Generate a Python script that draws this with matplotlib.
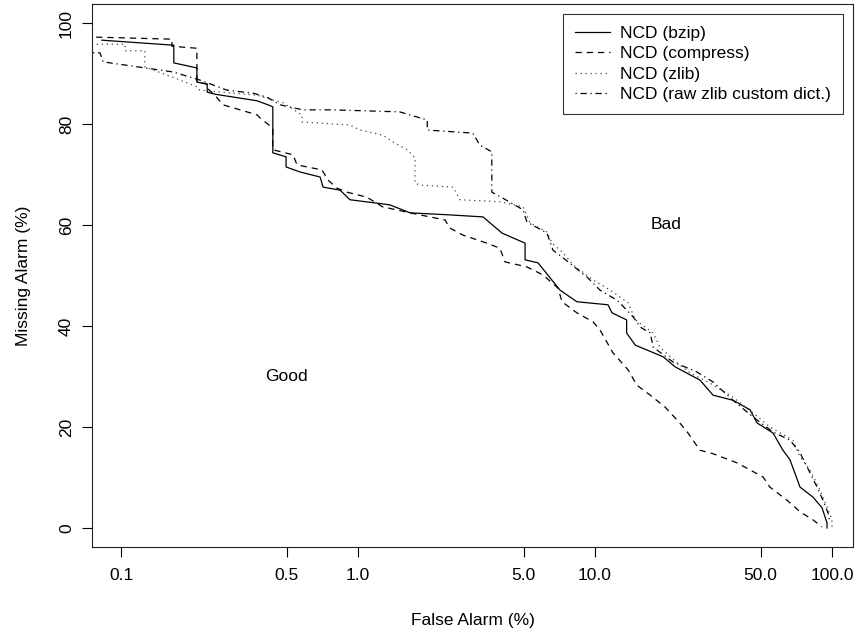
import matplotlib
matplotlib.use("Agg")
import matplotlib.pyplot as plt

plt.rcParams["font.family"] = ["Liberation Sans", "DejaVu Sans"]

# DET curves: false alarm (%) vs missing alarm (%)
bzip_fa = [0.083, 0.167, 0.167, 0.209, 0.209, 0.231, 0.231, 0.249, 0.375, 0.417,
           0.437, 0.437, 0.497, 0.497, 0.569, 0.692, 0.712, 0.840, 0.925, 1.36,
           1.66, 2.44, 3.37, 4.05, 5.07, 5.07, 5.75, 7.12, 8.39, 11.35,
           11.8, 13.6, 13.6, 14.8, 19.4, 21.8, 27.7, 31.5, 38.2, 45.1,
           48.3, 56.4, 62.1, 66.5, 73.3, 83.2, 90.8, 95.3, 95.3]
bzip_ma = [96.6, 95.6, 92.1, 91.1, 88.3, 87.9, 86.3, 85.9, 84.6, 83.8,
           83.4, 74.3, 73.5, 71.5, 70.5, 69.5, 67.5, 66.9, 65.0, 64.0,
           62.4, 62.0, 61.6, 58.4, 56.4, 53.1, 52.5, 47.1, 44.8, 44.2,
           42.6, 41.2, 38.6, 36.2, 33.9, 31.9, 29.3, 26.3, 25.3, 23.4,
           20.8, 18.8, 15.4, 13.5, 8.1, 6.1, 4.0, 1.0, 0.0]

compress_fa = [0.0785, 0.164, 0.164, 0.209, 0.209, 0.231, 0.231, 0.249, 0.269, 0.318,
               0.375, 0.386, 0.437, 0.437, 0.532, 0.553, 0.705, 0.747, 0.815, 0.899,
               1.09, 1.27, 1.66, 2.01, 2.33, 2.44, 2.77, 3.50, 3.97, 4.17,
               5.16, 6.04, 6.98, 7.26, 8.39, 9.82, 10.5, 11.9, 13.8, 15.0,
               17.1, 19.7, 22.8, 24.7, 27.7, 31.5, 39.7, 51.2, 54.7, 64.6,
               73.3, 83.2, 90.8]
compress_ma = [97.2, 96.8, 95.4, 95.0, 88.3, 87.9, 87.1, 85.7, 83.8, 82.8,
               81.8, 81.2, 79.2, 74.9, 73.9, 71.9, 70.9, 68.9, 67.3, 66.5,
               65.5, 63.6, 62.4, 61.6, 61.0, 59.4, 58.0, 56.4, 55.4, 52.7,
               51.7, 50.1, 47.5, 44.8, 42.6, 40.8, 39.2, 34.7, 31.3, 28.3,
               26.3, 24.0, 20.8, 18.8, 15.4, 14.7, 12.9, 10.1, 8.1, 5.5,
               3.2, 1.6, 0.2]

zlib_fa = [0.079, 0.104, 0.104, 0.126, 0.126, 0.169, 0.211, 0.215, 0.269, 0.375,
           0.483, 0.580, 0.580, 0.925, 1.02, 1.27, 1.41, 1.61, 1.74, 1.74,
           1.83, 2.52, 2.69, 3.97, 4.97, 5.32, 6.27, 6.59, 7.33, 8.08,
           9.82, 11.6, 13.8, 14.8, 17.6, 18.8, 22.2, 25.2, 30.5, 38.2,
           46.4, 54.7, 68.4, 73.3, 80.8, 89.0, 95.3, 100.0, 100.0]
zlib_ma = [95.8, 95.8, 94.5, 94.5, 91.3, 89.1, 87.3, 86.7, 86.3, 85.7,
           84.2, 81.8, 80.4, 79.8, 78.8, 77.8, 76.4, 74.9, 73.3, 68.3,
           67.9, 67.5, 65.0, 64.6, 63.6, 60.4, 58.6, 56.4, 54.5, 52.1,
           49.1, 47.1, 44.6, 41.2, 38.6, 35.8, 32.7, 30.7, 28.7, 25.9,
           22.8, 20.0, 17.4, 14.1, 11.5, 7.5, 4.2, 1.6, 0.2]

rawzlib_fa = [0.0762, 0.0815, 0.084, 0.166, 0.215, 0.280, 0.361, 0.413, 0.469, 0.586,
              0.785, 1.50, 1.83, 1.96, 1.96, 3.05, 3.27, 3.67, 3.67, 4.09,
              4.97, 5.16, 6.27, 6.65, 7.33, 9.25, 10.5, 12.4, 14.5, 15.5,
              17.1, 17.6, 21.3, 26.9, 31.5, 38.2, 46.4, 56.4, 66.5, 73.3,
              78.5, 86.5, 91.6, 96.2, 98.2]
rawzlib_ma = [94.1, 94.1, 92.3, 90.3, 88.7, 86.7, 86.1, 85.3, 83.8, 82.8,
              82.8, 82.4, 81.2, 80.8, 78.8, 78.2, 75.8, 74.5, 66.5, 65.3,
              63.0, 60.6, 58.4, 55.0, 53.5, 49.7, 47.1, 45.1, 41.8, 39.8,
              38.6, 35.8, 32.9, 30.9, 28.9, 25.3, 22.0, 19.0, 17.4, 14.9,
              12.1, 8.1, 5.5, 3.0, 1.0]

x_ticks = [0.1, 0.5, 1.0, 5.0, 10.0, 50.0, 100.0]
x_tick_labels = ["0.1", "0.5", "1.0", "5.0", "10.0", "50.0", "100.0"]
y_ticks = [0, 20, 40, 60, 80, 100]

FS = 12.5

fig = plt.figure(figsize=(8.58, 6.36), dpi=100)
ax = fig.add_axes([0.1072, 0.140, 0.887, 0.854])

lw = 0.9
ax.plot(bzip_fa, bzip_ma, color="black", lw=lw, linestyle="-", label="NCD (bzip)")
ax.plot(compress_fa, compress_ma, color="black", lw=lw,
        linestyle=(0, (5, 4)), label="NCD (compress)")
ax.plot(zlib_fa, zlib_ma, color="#444444", lw=lw,
        linestyle=(0, (1, 3)), label="NCD (zlib)")
ax.plot(rawzlib_fa, rawzlib_ma, color="black", lw=lw,
        linestyle=(0, (1, 3, 5, 3)), label="NCD (raw zlib custom dict.)")

ax.text(0.5, 30, "Good", ha="center", va="center", fontsize=FS)
ax.text(20, 60, "Bad", ha="center", va="center", fontsize=FS)

ax.set_xscale("log")
ax.set_xlim(0.0754, 122.7)
ax.set_ylim(-3.76, 103.8)
ax.set_xticks(x_ticks)
ax.set_xticklabels(x_tick_labels)
ax.minorticks_off()
ax.set_yticks(y_ticks)
ax.set_yticklabels([str(v) for v in y_ticks], rotation=90, va="center")
ax.tick_params(axis="both", direction="out", length=7, width=0.8,
               labelsize=FS, color="black")
ax.tick_params(axis="x", pad=8)
ax.tick_params(axis="y", pad=6)
for s in ax.spines.values():
    s.set_linewidth(0.8)
    s.set_color("#222222")

ax.set_xlabel("False Alarm (%)", fontsize=FS, labelpad=22)
ax.set_ylabel("Missing Alarm (%)", fontsize=FS, labelpad=20)

leg = ax.legend(loc="upper right", bbox_to_anchor=(0.987, 0.982), fontsize=FS,
                frameon=True, fancybox=False, edgecolor="black",
                handlelength=2.0, handletextpad=0.55, labelspacing=0.29,
                borderpad=0.72, borderaxespad=0)
leg.get_frame().set_linewidth(0.8)

fig.savefig("out.png", dpi=100)
